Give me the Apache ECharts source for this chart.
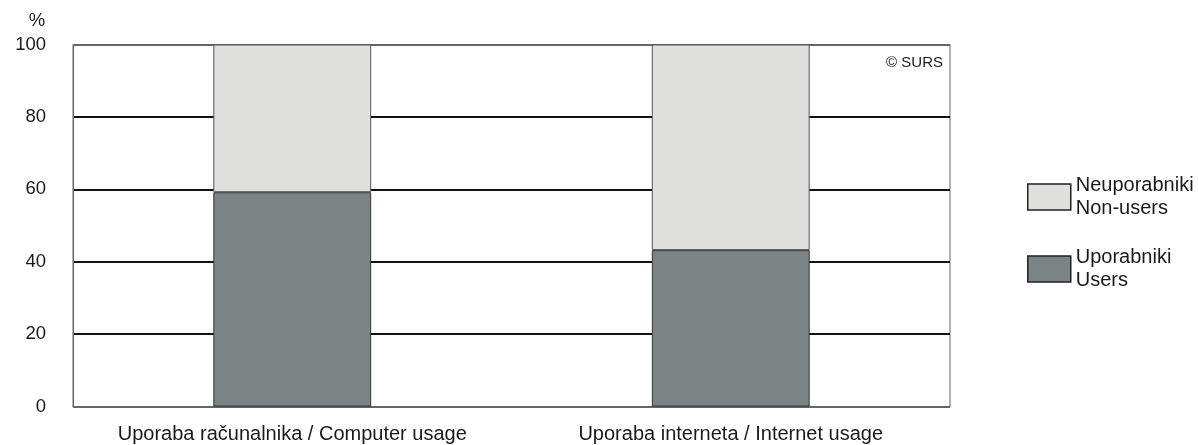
<!DOCTYPE html>
<html>
<head>
<meta charset="utf-8">
<script src="https://cdn.jsdelivr.net/npm/echarts@6/dist/echarts.min.js"></script>
<style>html,body{margin:0;padding:0;background:#fff;}#c{width:1198px;height:445px;}</style>
</head>
<body>
<div id="c"></div>
<script>
var categories = ['Uporaba računalnika / Computer usage', 'Uporaba interneta / Internet usage'];
var users = [59.2, 43.2];
var nonUsers = [40.8, 56.8];
var seriesNames = ['Uporabniki\nUsers', 'Neuporabniki\nNon-users'];
var yTicks = [0, 20, 40, 60, 80, 100];

var font = 'Liberation Sans, Arial, sans-serif';
var chart = echarts.init(document.getElementById('c'));
chart.setOption({
  animation: false,
  backgroundColor: '#fff',
  grid: { left: 73, right: 248, top: 44.5, bottom: 38.5, show: true, borderColor: '#666', borderWidth: 1, backgroundColor: 'transparent' },
  legend: {
    orient: 'vertical', left: 1022, top: 169,
    itemWidth: 43, itemHeight: 26, itemGap: 26,
    icon: 'rect',
    data: [seriesNames[1], seriesNames[0]],
    textStyle: { fontFamily: font, fontSize: 20, color: '#1a1a1a', lineHeight: 23 },
    itemStyle: { borderColor: '#222', borderWidth: 1.5 }
  },
  xAxis: {
    type: 'category', data: categories,
    axisLine: { show: true, lineStyle: { color: '#666', width: 1 } },
    axisTick: { show: false },
    axisLabel: { interval: 0, fontFamily: font, fontSize: 20, color: '#1a1a1a', margin: 18 }
  },
  yAxis: {
    type: 'value', min: 0, max: 100, interval: 20,
    name: '%', nameLocation: 'end', nameGap: 14,
    nameTextStyle: { fontFamily: font, fontSize: 18.5, color: '#1a1a1a', align: 'center', padding: [0, 0, 0, -72] },
    axisLine: { show: true, lineStyle: { color: '#666' } },
    axisTick: { show: false },
    axisLabel: { fontFamily: font, fontSize: 18.5, color: '#1a1a1a', margin: 27, formatter: function (v) { return yTicks.indexOf(v) >= 0 ? String(v) : ''; } },
    splitLine: { show: true, lineStyle: { color: ['#666', '#111', '#111', '#111', '#111', '#666'], width: 2 } }
  },
  graphic: [{
    type: 'text', right: 1198 - 943, top: 55,
    style: { text: '© SURS', fontFamily: font, fontSize: 15, fill: '#1a1a1a' }
  }],
  series: [
    { name: seriesNames[0], type: 'bar', stack: 's', data: users, barWidth: '36%',
      itemStyle: { color: '#7c8385', borderColor: '#333', borderWidth: 1 } },
    { name: seriesNames[1], type: 'bar', stack: 's', data: nonUsers, barWidth: '36%',
      itemStyle: { color: '#dfdfdd', borderColor: '#555', borderWidth: 1 } }
  ]
});
</script>
</body>
</html>
